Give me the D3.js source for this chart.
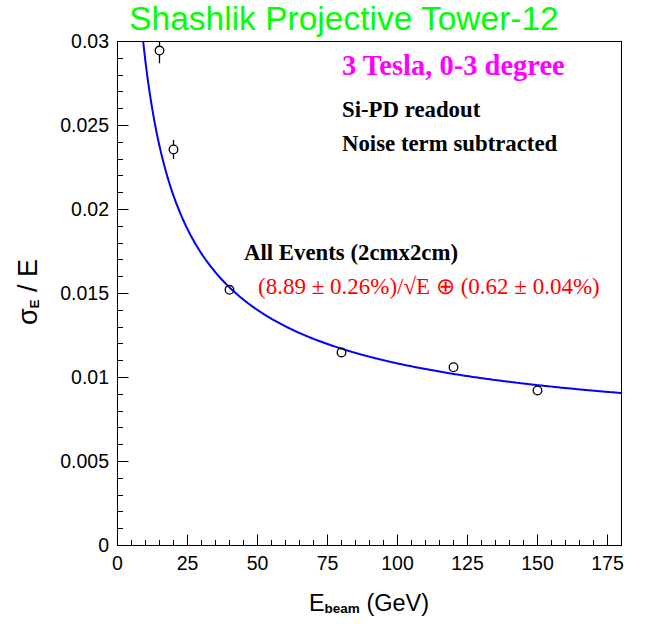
<!DOCTYPE html>
<html lang="en">
<head>
    <meta charset="UTF-8">
    <title>Shashlik Projective Tower-12</title>
    <style>
        body {
            margin: 0;
            padding: 0;
            background: #fff;
        }
        svg text {
            font-family: "Liberation Sans", Arial, sans-serif;
        }
        .serif {
            font-family: "Liberation Serif", "Times New Roman", serif !important;
        }
    </style>
</head>
<body>
    <div id="chart"></div>
    <script src="https://d3js.org/d3.v7.min.js"></script>
    <script>
        // measured points: beam energy (GeV) vs sigma_E / E
        const energies = [15, 20, 40, 80, 120, 150];
        const resolution = [0.02946, 0.02357, 0.01522, 0.01149, 0.01061, 0.00923];
        const resolutionErr = [0.00075, 0.00057, 0.0002, 0.0002, 0.0002, 0.0002];

        // fit: sqrt(a^2/E + b^2)
        const fitStochastic = 0.0889;
        const fitConstant = 0.0062;
        const fitRange = [5, 180];

        const xTicks = [0, 25, 50, 75, 100, 125, 150, 175];
        const yTicks = [0, 0.005, 0.01, 0.015, 0.02, 0.025, 0.03];
        const yTickLabels = ['0', '0.005', '0.01', '0.015', '0.02', '0.025', '0.03'];

        const width = 648;
        const height = 624;
        const frameL = 117.5, frameR = 621.5, frameT = 41.5, frameB = 545.5;

        const svg = d3.select('#chart')
            .append('svg')
            .attr('width', width)
            .attr('height', height);

        const x = d3.scaleLinear().domain([0, 180]).range([frameL, frameR]);
        const y = d3.scaleLinear().domain([0, 0.03]).range([frameB, frameT]);

        svg.append('clipPath').attr('id', 'frame')
            .append('rect')
            .attr('x', frameL).attr('y', frameT)
            .attr('width', frameR - frameL).attr('height', frameB - frameT);

        // frame
        svg.append('rect')
            .attr('x', frameL).attr('y', frameT)
            .attr('width', frameR - frameL).attr('height', frameB - frameT)
            .attr('fill', 'none')
            .attr('stroke', '#000')
            .attr('stroke-width', 1);

        // ticks (ROOT style, inward)
        const xMinor = d3.range(0, 181, 5);
        svg.append('g').selectAll('line')
            .data(xMinor)
            .enter().append('line')
            .attr('x1', d => Math.round(x(d) - 0.5) + 0.5)
            .attr('x2', d => Math.round(x(d) - 0.5) + 0.5)
            .attr('y1', frameB)
            .attr('y2', d => frameB - (d % 25 === 0 ? 11 : 5.5))
            .attr('stroke', '#000');

        const yMinor = d3.range(0, 31, 1).map(d => d / 1000);
        svg.append('g').selectAll('line')
            .data(yMinor)
            .enter().append('line')
            .attr('y1', d => Math.round(y(d) - 0.5) + 0.5)
            .attr('y2', d => Math.round(y(d) - 0.5) + 0.5)
            .attr('x1', frameL)
            .attr('x2', (d, i) => frameL + (i % 5 === 0 ? 11 : 5.5))
            .attr('stroke', '#000');

        svg.append('g').selectAll('text')
            .data(xTicks)
            .enter().append('text')
            .attr('x', d => x(d))
            .attr('y', 569.5)
            .attr('text-anchor', 'middle')
            .attr('font-size', 19.5)
            .text(d => d);

        svg.append('g').selectAll('text')
            .data(yTicks)
            .enter().append('text')
            .attr('x', 109)
            .attr('y', d => y(d))
            .attr('dy', '0.35em')
            .attr('text-anchor', 'end')
            .attr('font-size', 19.5)
            .text((d, i) => yTickLabels[i]);

        // fit curve
        const fitFn = e => Math.sqrt(fitStochastic * fitStochastic / e + fitConstant * fitConstant);
        const fitPts = d3.range(fitRange[0], fitRange[1] + 0.01, 0.5).map(e => [e, fitFn(e)]);
        svg.append('path')
            .datum(fitPts)
            .attr('clip-path', 'url(#frame)')
            .attr('fill', 'none')
            .attr('stroke', '#0000ff')
            .attr('stroke-width', 2)
            .attr('d', d3.line().x(d => x(d[0])).y(d => y(d[1])));

        // data points with error bars
        const r = 4.3;
        const pts = energies.map((e, i) => ({ e: e, v: resolution[i], err: resolutionErr[i] }));
        const g = svg.append('g').attr('clip-path', 'url(#frame)');
        pts.forEach(p => {
            const cx = x(p.e), cy = y(p.v);
            const yHi = y(p.v + p.err), yLo = y(p.v - p.err);
            if (cy - yHi > r) {
                g.append('line').attr('x1', cx).attr('x2', cx)
                    .attr('y1', cy - r).attr('y2', yHi)
                    .attr('stroke', '#000').attr('stroke-width', 1.3);
            }
            if (yLo - cy > r) {
                g.append('line').attr('x1', cx).attr('x2', cx)
                    .attr('y1', cy + r).attr('y2', yLo)
                    .attr('stroke', '#000').attr('stroke-width', 1.3);
            }
        });
        g.selectAll('circle')
            .data(pts)
            .enter().append('circle')
            .attr('cx', d => x(d.e))
            .attr('cy', d => y(d.v))
            .attr('r', r)
            .attr('fill', 'none')
            .attr('stroke', '#000')
            .attr('stroke-width', 1.3);

        // title
        svg.append('text')
            .attr('x', 344)
            .attr('y', 29.5)
            .attr('text-anchor', 'middle')
            .attr('font-size', 33.5)
            .attr('fill', '#00ff00')
            .text('Shashlik Projective Tower-12');

        // annotations
        svg.append('text').attr('class', 'serif')
            .attr('x', 342).attr('y', 74.5)
            .attr('font-size', 28.5).attr('font-weight', 'bold')
            .attr('fill', '#ff00ff')
            .text('3 Tesla, 0-3 degree');

        svg.append('text').attr('class', 'serif')
            .attr('x', 342).attr('y', 117)
            .attr('font-size', 22.8).attr('font-weight', 'bold')
            .text('Si-PD readout');

        svg.append('text').attr('class', 'serif')
            .attr('x', 342).attr('y', 151)
            .attr('font-size', 22.8).attr('font-weight', 'bold')
            .text('Noise term subtracted');

        svg.append('text').attr('class', 'serif')
            .attr('x', 244).attr('y', 260)
            .attr('font-size', 22.8).attr('font-weight', 'bold')
            .text('All Events (2cmx2cm)');

        svg.append('text').attr('class', 'serif')
            .attr('x', 258).attr('y', 294)
            .attr('font-size', 23)
            .attr('fill', '#ff0000')
            .text('(8.89 \u00b1 0.26%)/\u221aE \u2295 (0.62 \u00b1 0.04%)');

        // axis titles
        const xTitle = svg.append('text')
            .attr('x', 369)
            .attr('y', 611)
            .attr('text-anchor', 'middle')
            .attr('font-size', 23.5);
        xTitle.append('tspan').text('E');
        xTitle.append('tspan').attr('font-size', 13.5).attr('font-weight', 'bold').attr('dy', 2).text('beam');
        xTitle.append('tspan').attr('dy', -2).text(' (GeV)');

        const yTitle = svg.append('text')
            .attr('transform', 'translate(37,292) rotate(-90)')
            .attr('text-anchor', 'middle')
            .attr('font-size', 27);
        yTitle.append('tspan').text('\u03c3');
        yTitle.append('tspan').attr('font-size', 13.5).attr('font-weight', 'bold').attr('dy', 2).text('E');
        yTitle.append('tspan').attr('dy', -2).text(' / E');
    </script>
</body>
</html>
